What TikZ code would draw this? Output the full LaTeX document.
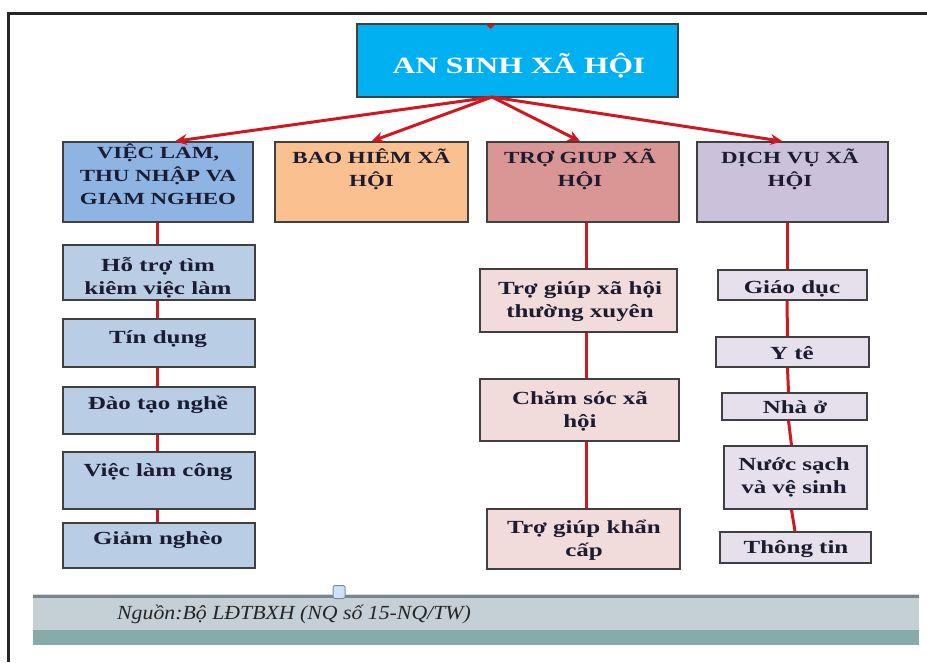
\documentclass[tikz,border=0pt]{standalone}
\usepackage{fontspec}
\setmainfont{Liberation Serif}
\newfontfamily\boxfont[FakeStretch=1.35]{Liberation Serif}
\newfontfamily\srcfont[FakeStretch=1.09]{Liberation Serif}
\usetikzlibrary{arrows.meta}
\definecolor{topfill}{RGB}{0,176,240}
\definecolor{fa}{RGB}{142,180,227}
\definecolor{fb}{RGB}{250,192,144}
\definecolor{fc}{RGB}{217,150,148}
\definecolor{fd}{RGB}{204,193,218}
\definecolor{la}{RGB}{185,205,229}
\definecolor{lc}{RGB}{242,220,219}
\definecolor{ld}{RGB}{230,224,236}
\definecolor{bord}{RGB}{64,64,64}
\definecolor{conred}{RGB}{208,24,32}
\definecolor{txt}{RGB}{28,28,48}
\definecolor{footline}{RGB}{122,132,142}
\definecolor{footband}{RGB}{196,208,214}
\definecolor{footteal}{RGB}{133,172,170}
\definecolor{handlefill}{RGB}{205,228,246}
\definecolor{handlebord}{RGB}{120,140,160}
\begin{document}
\begin{tikzpicture}[x=1pt,y=-1pt,
  box/.style={draw=bord, line width=1.5pt, inner sep=0pt},
  hdr/.style={inner sep=0pt, align=center, text=txt, font=\boxfont\bfseries\fontsize{17}{23}\selectfont},
  body/.style={inner sep=0pt, align=center, text=txt, font=\boxfont\bfseries\fontsize{18.5}{23}\selectfont},
  conn/.style={draw=conred, line width=3pt},
  arr/.style={draw=conred, line width=3pt, -{Stealth[length=12pt,width=11pt]}}]
\useasboundingbox (0,0) rectangle (927,662);
% outer frame
\draw[line width=2.5pt, draw=black!85] (8.5,662) -- (8.5,13.5) -- (927,13.5);
% top box
\node[box, fill=topfill, minimum width=321pt, minimum height=73pt] (top) at (517.5,60.5) {};
\node[inner sep=0pt, anchor=base, text=white, font=\boxfont\bfseries\fontsize{23.3}{28}\selectfont] (toptxt) at (519,73.5) {AN SINH XÃ HỘI};
\fill[conred] (486,24.5) -- (495,24.5) -- (490.5,29) -- cycle;
\coordinate (hub) at (492,97);
% level-1 boxes
\node[box, fill=fa, minimum width=190pt, minimum height=80pt] (b1) at (158,182) {};
\node[box, fill=fb, minimum width=193pt, minimum height=80pt] (b2) at (371.5,182) {};
\node[box, fill=fc, minimum width=192pt, minimum height=80pt] (b3) at (583,182) {};
\node[box, fill=fd, minimum width=191pt, minimum height=80pt] (b4) at (792.5,182) {};
\node[hdr, anchor=north] (t1) at (158,142.6) {\rule{0pt}{16pt}VIỆC LAM,\\THU NHẬP VA\\GIAM NGHEO};
\node[hdr, anchor=north] (t2) at (371.5,147.6) {\rule{0pt}{16pt}BAO HIÊM XÃ\\HỘI};
\node[hdr, anchor=north] (t3) at (580,147) {\rule{0pt}{16pt}TRỢ GIUP XÃ\\HỘI};
\node[hdr, anchor=north] (t4) at (790,147.6) {\rule{0pt}{16pt}DỊCH VỤ XÃ\\HỘI};
% arrows
\draw[arr] (hub) -- ([xshift=17pt]b1.north);
\draw[arr] (hub) -- (b2.north);
\draw[arr] (hub) -- ([xshift=-3pt]b3.north);
\draw[arr] (hub) -- ([xshift=-10pt]b4.north);
% column 1
\node[box, fill=la, minimum width=192pt, minimum height=55pt] (a1) at (159,272.5) {};
\node[box, fill=la, minimum width=192pt, minimum height=48pt] (a2) at (159,343) {};
\node[box, fill=la, minimum width=192pt, minimum height=47pt] (a3) at (159,410.5) {};
\node[box, fill=la, minimum width=192pt, minimum height=57pt] (a4) at (159,480.5) {};
\node[box, fill=la, minimum width=192pt, minimum height=45pt] (a5) at (159,545.5) {};
\node[body, anchor=north] (ta1) at (158,254) {\rule{0pt}{17pt}Hỗ trợ tìm\\kiêm việc làm};
\node[body, anchor=base] (ta2) at (158,343) {Tín dụng};
\node[body, anchor=base] (ta3) at (158,409) {Đào tạo nghề};
\node[body, anchor=base] (ta4) at (158,476) {Việc làm công};
\node[body, anchor=base] (ta5) at (158,544) {Giảm nghèo};
\draw[conn] ([xshift=-1pt]b1.south) -- ([xshift=-2pt]a1.north);
\draw[conn] ([xshift=-2pt]a1.south) -- ([xshift=-2pt]a2.north);
\draw[conn] ([xshift=-2pt]a2.south) -- ([xshift=-2pt]a3.north);
\draw[conn] ([xshift=-2pt]a3.south) -- ([xshift=-2pt]a4.north);
\draw[conn] ([xshift=-2pt]a4.south) -- ([xshift=-2pt]a5.north);
% column 3
\node[box, fill=lc, minimum width=197pt, minimum height=63pt] (c1) at (578.5,300.5) {};
\node[box, fill=lc, minimum width=199pt, minimum height=62pt] (c2) at (579.5,410) {};
\node[box, fill=lc, minimum width=193pt, minimum height=60pt] (c3) at (583.5,539) {};
\node[body, anchor=north] (tc1) at (580,277) {\rule{0pt}{17pt}Trợ giúp xã hội\\thường xuyên};
\node[body, anchor=north] (tc2) at (580,387) {\rule{0pt}{17pt}Chăm sóc xã\\hội};
\node[body, anchor=north] (tc3) at (584,516) {\rule{0pt}{17pt}Trợ giúp khẩn\\cấp};
\draw[conn] ([xshift=3pt]b3.south) -- ([xshift=7.5pt]c1.north);
\draw[conn] ([xshift=7.5pt]c1.south) -- ([xshift=6.5pt]c2.north);
\draw[conn] ([xshift=6.5pt]c2.south) -- ([xshift=2.5pt]c3.north);
% column 4
\node[box, fill=ld, minimum width=149pt, minimum height=30pt] (d1) at (792.5,285) {};
\node[box, fill=ld, minimum width=153pt, minimum height=30pt] (d2) at (792.5,352) {};
\node[box, fill=ld, minimum width=145pt, minimum height=27pt] (d3) at (794.5,406.5) {};
\node[box, fill=ld, minimum width=143pt, minimum height=63pt] (d4) at (795.5,477.5) {};
\node[box, fill=ld, minimum width=151pt, minimum height=31pt] (d5) at (795.5,547.5) {};
\node[body, anchor=base] (td1) at (792,293) {Giáo dục};
\node[body, anchor=base] (td2) at (792,359) {Y tê};
\node[body, anchor=base] (td3) at (795,413) {Nhà ở};
\node[body, anchor=north] (td4) at (794,453) {\rule{0pt}{17pt}Nước sạch\\và vệ sinh};
\node[body, anchor=base] (td5) at (796,553) {Thông tin};
\draw[conn] ([xshift=-5.5pt]b4.south) -- ([xshift=-5.5pt]d1.north);
\draw[conn] ([xshift=-5.5pt]d1.south) -- ([xshift=-5pt]d2.north);
\draw[conn] ([xshift=-5pt]d2.south) -- ([xshift=-6pt]d3.north);
\draw[conn] ([xshift=-6pt]d3.south) -- ([xshift=-4pt]d4.north);
\draw[conn] ([xshift=-4pt]d4.south) -- ([xshift=-0.5pt]d5.north);
% footer
\fill[footband] (33,597) rectangle (919,630);
\fill[footteal] (33,630) rectangle (919,645);
\draw[footline, line width=2.5pt] (33,596.5) -- (919,596.5);
\draw[white!70!footline, line width=0.8pt] (33,594.6) -- (919,594.6);
\node[draw=handlebord, fill=handlefill, line width=1pt, rounded corners=1.5pt, minimum width=12pt, minimum height=13pt, inner sep=0pt] (handle) at (339,592) {};
\node[inner sep=0pt, anchor=base west, text=black!85, font=\srcfont\itshape\fontsize{20}{24}\selectfont] (src) at (117,619) {Nguồn:Bộ LĐTBXH (NQ số 15-NQ/TW)};
\end{tikzpicture}
\end{document}
